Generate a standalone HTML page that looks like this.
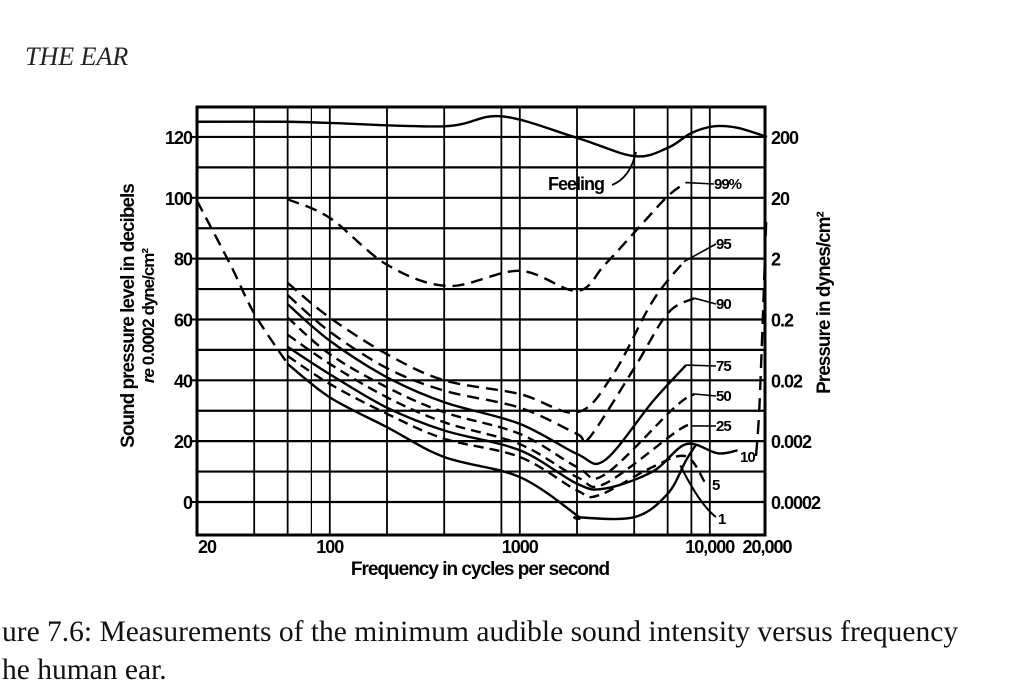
<!DOCTYPE html>
<html><head><meta charset="utf-8"><style>
body{margin:0;width:1024px;height:690px;background:#fff;overflow:hidden;position:relative;font-family:"Liberation Serif",serif}
.hdr{position:absolute;left:25px;top:42px;font-style:italic;font-size:26px;color:#222}
.cap{position:absolute;left:2px;font-size:29.5px;color:#111;white-space:nowrap}
svg{position:absolute;left:0;top:0}
</style></head><body>
<div class="hdr">THE EAR</div>
<div class="cap" style="top:616px">ure 7.6: Measurements of the minimum audible sound intensity versus frequency</div>
<div class="cap" style="top:654px">he human ear.</div>
<svg id="chart" width="1024" height="690"></svg>
<script>
const yTicks=[0,20,40,60,80,100,120];
const rightTicks=["0.0002","0.002","0.02","0.2","2","20","200"];
const xTickVals=[20,100,1000,10000,20000];
const xTickLabels=["20","100","1000","10,000","20,000"];
const gridFreqs=[40,60,80,100,200,400,800,1000,2000,4000,6000,8000,10000];
const feelingF=[20,60,100,400,800,2000,4000,6000,8000,10500,14000,20000];
const feelingDb=[125,125,124.6,123.5,126.8,119.7,113.7,116.4,121.3,123.5,123,120];
const c99F=[60,100,200,420,1000,2000,2800,4200,6000,7500];
const c99Db=[99.5,93.4,78,71,76,69.4,78,90,100.5,105];
const leftF=[20,30,40,60];
const leftDb=[99,78,62,45.4];
const rightEdgeF=[19800,19000,18200,17500];
const rightEdgeDb=[92,60,30,15];
const bandF=[60,100,200,400,1000,2000];
const c95Db=[72,60.6,48.6,40,35.5,29.5];
const c90Db=[68,56,44,36.6,31,22.4];
const c75Db=[65,53,41,32.8,25.7,15.8];
const c50Db=[60.6,48.6,37.7,29.5,22.4,11.5];
const c25Db=[55,45.4,34.4,26.2,19,8.2];
const c10Db=[51,42,31,23.5,17,6];
const c5Db=[48,38.8,29,20.8,14.8,3.8];
const c1Db=[45.4,34.4,24.6,14.8,8.2,-4.4];
const tail95F=[3100,5000,7300],tail95Db=[42,66,79];
const tail90F=[2300,4000,6000,8300],tail90Db=[20.8,44,62,67];
const tail75F=[2800,5000,7500],tail75Db=[13.7,33,45];
const tail50F=[2800,6500,8300],tail50Db=[9,31,35.5];
const tail25F=[2800,6800,8000],tail25Db=[6,23.5,25];
const tail10F=[2800,5000,7500,11000,14000],tail10Db=[4.4,10,19,16,17];
const tail5F=[2600,5000,7500,9500],tail5Db=[2.2,11.5,15,6];
const tail1F=[2000,4000,6000,7500,8500],tail1Db=[-5,-5,2.7,13.7,19];
const labelNames=["99%","95","90","75","50","25","10","5","1"];

const L=197,R=765,T=107,B=535;
const X=f=>L+190*Math.log10(f/20);
const Y=d=>502-d*3.042;
const svg=document.getElementById('chart');
const NS='http://www.w3.org/2000/svg';
function mk(t,a){const e=document.createElementNS(NS,t);for(const k in a)e.setAttribute(k,a[k]);svg.appendChild(e);return e;}
function path(pts){let d='M'+pts[0][0]+','+pts[0][1];
 for(let i=0;i<pts.length-1;i++){const p0=pts[Math.max(i-1,0)],p1=pts[i],p2=pts[i+1],p3=pts[Math.min(i+2,pts.length-1)];
  d+=' C'+(p1[0]+(p2[0]-p0[0])/6)+','+(p1[1]+(p2[1]-p0[1])/6)+' '+(p2[0]-(p3[0]-p1[0])/6)+','+(p2[1]-(p3[1]-p1[1])/6)+' '+p2[0]+','+p2[1];}
 return d;}
function curve(fs,ds,dash,name){const e=mk('path',{d:path(fs.map((f,i)=>[X(f),Y(ds[i])])),fill:'none',stroke:'#000','stroke-width':2.4,'stroke-dasharray':dash||'none'});
 
 return e;}
for(let d=0;d<=120;d+=10){const l=mk('line',{x1:L,x2:R,y1:Y(d),y2:Y(d),stroke:'#000','stroke-width':2.2});
 
 }
gridFreqs.forEach(f=>{const l=mk('line',{x1:X(f),x2:X(f),y1:T,y2:B,stroke:'#000','stroke-width':(f==80?1.2:1.8)});
 
 });
const fr=mk('rect',{x:L,y:T,width:R-L,height:B-T,fill:'none',stroke:'#000','stroke-width':3});


const tf='font-family:"Liberation Sans",sans-serif;font-weight:bold;font-size:18px;letter-spacing:-1px';
const ts=s=>tf.replace('18px',s);
yTicks.forEach((d,i)=>{const t=mk('text',{x:192,y:Y(d)+7,'text-anchor':'end',style:tf});t.textContent=d;
 
 
 const r=mk('text',{x:771,y:Y(d)+7,style:tf});r.textContent=rightTicks[i];
 
 
 mk('line',{x1:L-6,x2:L,y1:Y(d),y2:Y(d),stroke:'#000','stroke-width':2});});
xTickVals.forEach((f,i)=>{const t=mk('text',{x:X(f)+(i==0?10:0),y:553,'text-anchor':'middle',style:tf});t.textContent=xTickLabels[i];
 
 });
const xt=mk('text',{x:480,y:575,'text-anchor':'middle',style:ts('19px')});xt.textContent='Frequency in cycles per second';


const yt=mk('text',{x:0,y:0,'text-anchor':'middle',transform:'translate(134,316) rotate(-90)',style:ts('19px')});yt.textContent='Sound pressure level in decibels';


const yt2=mk('text',{x:0,y:0,'text-anchor':'middle',transform:'translate(154,316) rotate(-90)',style:ts('17px')});yt2.innerHTML='<tspan font-style="italic">re</tspan> 0.0002 dyne/cm²';


const rt=mk('text',{x:0,y:0,'text-anchor':'middle',transform:'translate(830,303) rotate(-90)',style:ts('19px')});rt.textContent='Pressure in dynes/cm²';


curve(feelingF,feelingDb,'none','feeling-curve');
curve(c99F,c99Db,'12,7','curve-99');
curve(leftF,leftDb,'12,7','curve-left-extension');
curve(rightEdgeF,rightEdgeDb,'14,8','curve-right-edge');
const bands=[[c95Db,tail95F,tail95Db,'12,7','95'],[c90Db,tail90F,tail90Db,'12,7','90'],[c75Db,tail75F,tail75Db,'none','75'],
 [c50Db,tail50F,tail50Db,'10,6','50'],[c25Db,tail25F,tail25Db,'10,6','25'],[c10Db,tail10F,tail10Db,'none','10'],
 [c5Db,tail5F,tail5Db,'10,6','5'],[c1Db,tail1F,tail1Db,'none','1']];
bands.forEach(b=>{curve(bandF.concat(b[1]),b[0].concat(b[2]),b[3],'curve-'+b[4]);});
const lpos=[[714,189],[716,249],[716,309],[716,371],[716,401],[716,431],[740,462],[712,490],[718,524]];
const lend=[[X(7500),Y(105)],[X(7300),Y(79)],[X(8300),Y(67)],[X(7500),Y(45)],[X(8300),Y(35.5)],[X(8000),Y(25)],[X(14000),Y(17)],[X(9500),Y(6)],[X(8500),Y(19)]];
labelNames.forEach((n,i)=>{const t=mk('text',{x:lpos[i][0],y:lpos[i][1],style:ts('15px')});t.textContent=n;
 
 
 if(i!=6&&i!=8&&i!=7)mk('line',{x1:lend[i][0],y1:lend[i][1],x2:lpos[i][0],y2:lpos[i][1]-5,stroke:'#000','stroke-width':1.6});});
mk('path',{d:'M'+X(7000)+','+Y(12)+' Q700,505 716,517',fill:'none',stroke:'#000','stroke-width':2});
const fl=mk('text',{x:548,y:190,style:ts('18px')});fl.textContent='Feeling';


mk('path',{d:'M612,185 Q630,178 636,152',fill:'none',stroke:'#000','stroke-width':1.8});
</script>
</body></html>
